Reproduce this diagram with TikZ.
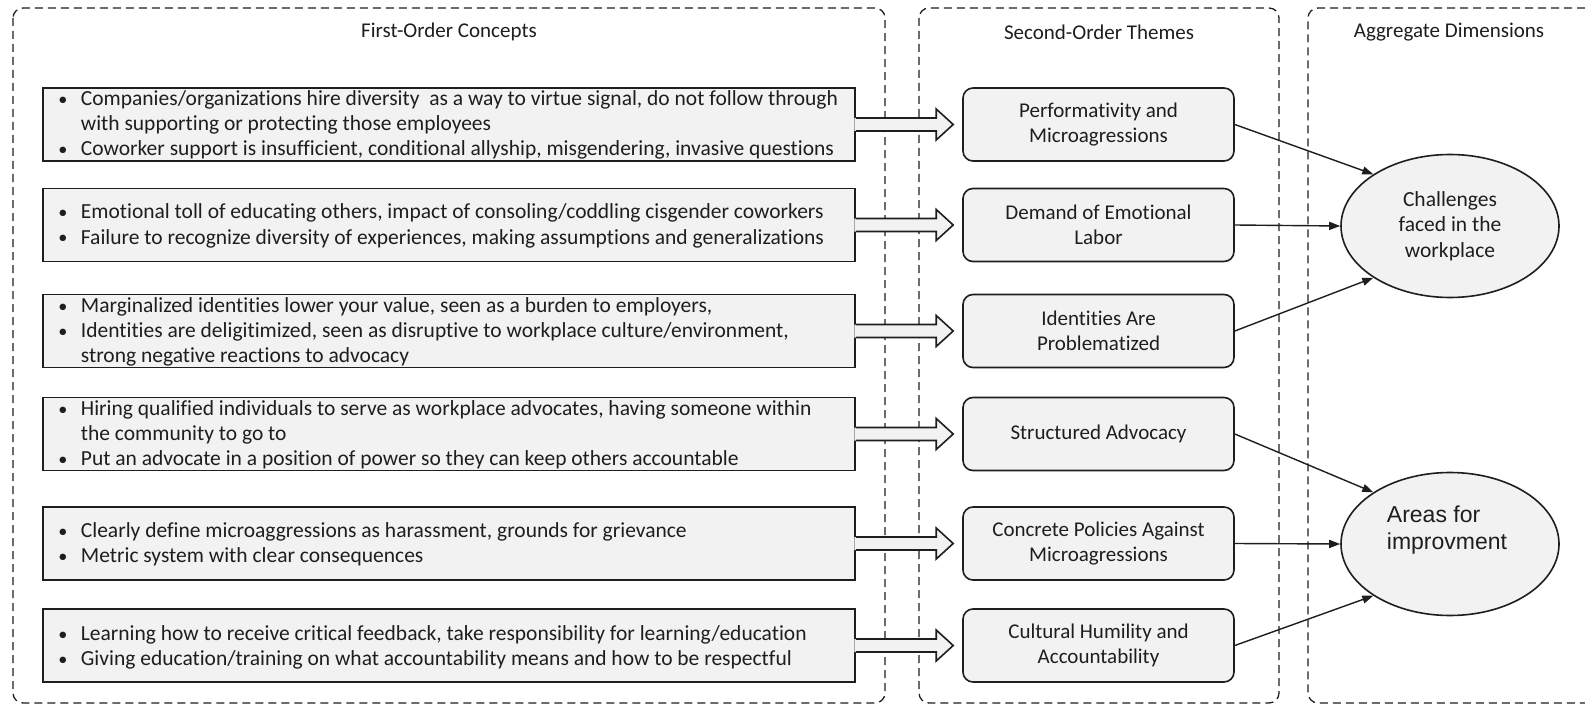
\documentclass[tikz,border=0pt]{standalone}
\usepackage{fontspec}
\setmainfont[Ligatures={NoCommon,NoContextual}]{Carlito}
\newfontfamily\arialfont{Liberation Sans}
\usetikzlibrary{arrows.meta,shapes.geometric,calc}
\definecolor{boxfill}{HTML}{F2F2F2}
\definecolor{ink}{HTML}{1E1E1E}

% hollow block arrow from a concept box to its theme box
\newcommand\fatarrow[2]{%
  \fill[boxfill] ($(#1.east)+(-1.5,-6.5)$) -- ($(#2.west)+(-26,-6.5)$)
    -- ($(#2.west)+(-26,-15.5)$) -- ($(#2.west)+(-9,0)$)
    -- ($(#2.west)+(-26,15.5)$) -- ($(#2.west)+(-26,6.5)$)
    -- ($(#1.east)+(-1.5,6.5)$) -- cycle;
  \draw[fat] ($(#1.east)+(0,-6.5)$) -- ($(#2.west)+(-26,-6.5)$)
    -- ($(#2.west)+(-26,-15.5)$) -- ($(#2.west)+(-9,0)$)
    -- ($(#2.west)+(-26,15.5)$) -- ($(#2.west)+(-26,6.5)$)
    -- ($(#1.east)+(0,6.5)$);
}
\newcommand\bul{\scalebox{0.85}{\textbullet}}

\begin{document}
\begin{tikzpicture}[x=1pt,y=-1pt,
  frame/.style={draw=ink, line width=1.3pt, dash pattern=on 8pt off 5pt, rounded corners=10pt},
  concept/.style={draw=ink, fill=boxfill, line width=1.6pt, minimum width=812pt, minimum height=73pt, inner sep=0pt},
  concepttext/.style={anchor=west, align=left, inner sep=0pt, text=ink, font=\fontsize{21.5}{25}\selectfont},
  theme/.style={draw=ink, fill=boxfill, line width=1.6pt, rounded corners=10pt, minimum width=271pt, minimum height=73pt, align=center, inner sep=0pt, text=ink, font=\fontsize{21}{25}\selectfont},
  dimension/.style={ellipse, draw=ink, fill=boxfill, line width=1.6pt, minimum width=218pt, minimum height=143pt, inner sep=0pt, align=center, text=ink, font=\fontsize{21.5}{25.5}\selectfont},
  title/.style={font=\fontsize{21}{25}\selectfont, inner sep=0pt, text=ink},
  link/.style={draw=ink, line width=1.4pt, -{Triangle[length=11pt,width=8pt]}},
  fat/.style={draw=ink, line width=1.6pt, line join=miter},
]
\useasboundingbox (0,0) rectangle (1585,706);
\fill[white] (0,0) rectangle (1585,706);

% column frames
\draw[frame] (13,8) rectangle (885,703);
\draw[frame] (919,8) rectangle (1279,703);
\draw[frame] (1585,8) -- (1308,8) -- (1308,703) -- (1585,703);

\node[title] (h1) at (449,32) {First-Order Concepts};
\node[title] (h2) at (1099,32) {Second-Order Themes};
\node[title] (h3) at (1449,32) {Aggregate Dimensions};

% first-order concept boxes
\node[concept] (A) at (449,124.5) {};
\node[concept] (B) at (449,225) {};
\node[concept] (C) at (449,331) {};
\node[concept] (D) at (449,434) {};
\node[concept] (E) at (449,543.5) {};
\node[concept] (F) at (449,645.5) {};

% second-order themes
\node[theme] (T1) at (1098.5,124.5) {Performativity and\\Microagressions};
\node[theme] (T2) at (1098.5,225) {Demand of Emotional\\Labor};
\node[theme] (T3) at (1098.5,331) {Identities Are\\Problematized};
\node[theme] (T4) at (1098.5,434) {Structured Advocacy};
\node[theme] (T5) at (1098.5,543.5) {Concrete Policies Against\\Microagressions};
\node[theme] (T6) at (1098.5,645.5) {Cultural Humility and\\Accountability};

% aggregate dimensions
\node[dimension] (CH) at (1450,226) {Challenges\\faced in the\\workplace};
\node[dimension] (AR) at (1450,544) {};
\node[font=\arialfont\fontsize{23}{27}\selectfont, align=left, inner sep=0pt, text=ink] (ARt) at (1447,530) {Areas for\\improvment};

% block arrows
\fatarrow{A}{T1}
\fatarrow{B}{T2}
\fatarrow{C}{T3}
\fatarrow{D}{T4}
\fatarrow{E}{T5}
\fatarrow{F}{T6}

% theme to dimension links
\draw[link] (T1.east) -- (CH.146);
\draw[link] (T2.east) -- (CH.west);
\draw[link] (T3.east) -- (CH.214);
\draw[link] (T4.east) -- (AR.146);
\draw[link] (T5.east) -- (AR.west);
\draw[link] (T6.east) -- (AR.214);

% concept texts
\node[concepttext] (At) at ($(A.west)+(16,1)$) {\begin{tabular}{@{}p{22.5pt}@{}l@{}}
\bul & Companies/organizations hire diversity\ \ as a way to virtue signal, do not follow through\\
 & with supporting or protecting those employees\\
\bul & Coworker support is insufficient, conditional allyship, misgendering, invasive questions
\end{tabular}};
\node[concepttext] (Bt) at ($(B.west)+(16,1.5)$) {\begin{tabular}{@{}p{22.5pt}@{}l@{}}
\bul & Emotional toll of educating others, impact of consoling/coddling cisgender coworkers\\
\bul & Failure to recognize diversity of experiences, making assumptions and generalizations
\end{tabular}};
\node[concepttext] (Ct) at ($(C.west)+(16,1)$) {\begin{tabular}{@{}p{22.5pt}@{}l@{}}
\bul & Marginalized identities lower your value, seen as a burden to employers,\\
\bul & Identities are deligitimized, seen as disruptive to workplace culture/environment,\\
 & strong negative reactions to advocacy
\end{tabular}};
\node[concepttext] (Dt) at ($(D.west)+(16,1)$) {\begin{tabular}{@{}p{22.5pt}@{}l@{}}
\bul & Hiring qualified individuals to serve as workplace advocates, having someone within\\
 & the community to go to\\
\bul & Put an advocate in a position of power so they can keep others accountable
\end{tabular}};
\node[concepttext] (Et) at ($(E.west)+(16,1)$) {\begin{tabular}{@{}p{22.5pt}@{}l@{}}
\bul & Clearly define microaggressions as harassment, grounds for grievance\\
\bul & Metric system with clear consequences
\end{tabular}};
\node[concepttext] (Ft) at ($(F.west)+(16,2)$) {\begin{tabular}{@{}p{22.5pt}@{}l@{}}
\bul & Learning how to receive critical feedback, take responsibility for learning/education\\
\bul & Giving education/training on what accountability means and how to be respectful
\end{tabular}};
\end{tikzpicture}
\end{document}
